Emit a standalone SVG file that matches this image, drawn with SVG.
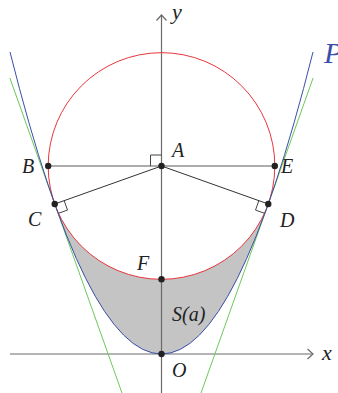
<svg xmlns="http://www.w3.org/2000/svg" width="338" height="393" viewBox="0 0 338 393">
<style>
text{font-family:"Liberation Serif","Times New Roman","DejaVu Serif",serif;font-style:italic;font-size:20px;fill:#222}
.axis{stroke:#6a6a6a;stroke-width:1.2;fill:none}
.dot{fill:#222}
.ra{stroke:#444;stroke-width:1;fill:none}
</style>
<rect width="338" height="393" fill="#ffffff"/>
<g id="region">
<path d="M54.73,204 Q161.5,504 268.27,204 A113.33,113.33 0 0 1 54.73,204 Z" fill="#c4c4c4" stroke="none"/>
</g>
<g id="axes">
<line class="axis" x1="10" y1="354" x2="313" y2="354"/>
<polyline class="axis" points="307.5,349 313,354 307.5,359"/>
<line class="axis" x1="161.5" y1="393" x2="161.5" y2="15"/>
<polyline class="axis" points="156.5,20.5 161.5,15 166.5,20.5"/>
</g>
<g id="connectors">
<line x1="48.2" y1="166" x2="274.8" y2="166" stroke="#5a5a5a" stroke-width="1.2"/>
<line x1="161.5" y1="166" x2="54.73" y2="204" stroke="#333" stroke-width="1"/>
<line x1="161.5" y1="166" x2="268.27" y2="204" stroke="#333" stroke-width="1"/>
<polyline class="ra" points="150.5,166 150.5,155 161.5,155"/>
<polyline class="ra" points="64.15,200.65 67.5,210.07 58.08,213.42"/>
<polyline class="ra" points="258.85,200.65 255.5,210.07 264.92,213.42"/>
</g>
<g id="tangents">
<line x1="9.9" y1="78" x2="122" y2="393" stroke="#6cc85a" stroke-width="1"/>
<line x1="313.1" y1="78" x2="201" y2="393" stroke="#6cc85a" stroke-width="1"/>
</g>
<g id="circle">
<circle cx="161.5" cy="166" r="113.33" fill="none" stroke="#e8363c" stroke-width="1"/>
</g>
<g id="parabola">
<path d="M10,52 Q161.5,656 313,52" fill="none" stroke="#3a4ea8" stroke-width="1"/>
</g>
<g id="points">
<circle class="dot" cx="161.5" cy="166" r="3.2"/>
<circle class="dot" cx="48.2" cy="166" r="3.2"/>
<circle class="dot" cx="274.8" cy="166" r="3.2"/>
<circle class="dot" cx="54.73" cy="204" r="3.2"/>
<circle class="dot" cx="268.27" cy="204" r="3.2"/>
<circle class="dot" cx="161.5" cy="279.3" r="3.2"/>
<circle class="dot" cx="161.5" cy="354" r="3.2"/>
</g>
<g id="labels">
<text x="172" y="19" font-family="Liberation Serif, serif" style="font-size:22px">y</text>
<text x="322" y="360" font-family="Liberation Serif, serif" style="font-size:22px">x</text>
<text x="172" y="157" font-family="Liberation Serif, serif">A</text>
<text x="22" y="173" font-family="Liberation Serif, serif">B</text>
<text x="281" y="173" font-family="Liberation Serif, serif">E</text>
<text x="28" y="226" font-family="Liberation Serif, serif">C</text>
<text x="280" y="227" font-family="Liberation Serif, serif">D</text>
<text x="137" y="270" font-family="Liberation Serif, serif">F</text>
<text x="172" y="321" font-family="Liberation Serif, serif">S(a)</text>
<text x="172" y="377" font-family="Liberation Serif, serif">O</text>
<text x="324" y="63" font-family="Liberation Serif, serif" style="font-size:30px;fill:#3a4ea8">P</text>
</g>
</svg>
